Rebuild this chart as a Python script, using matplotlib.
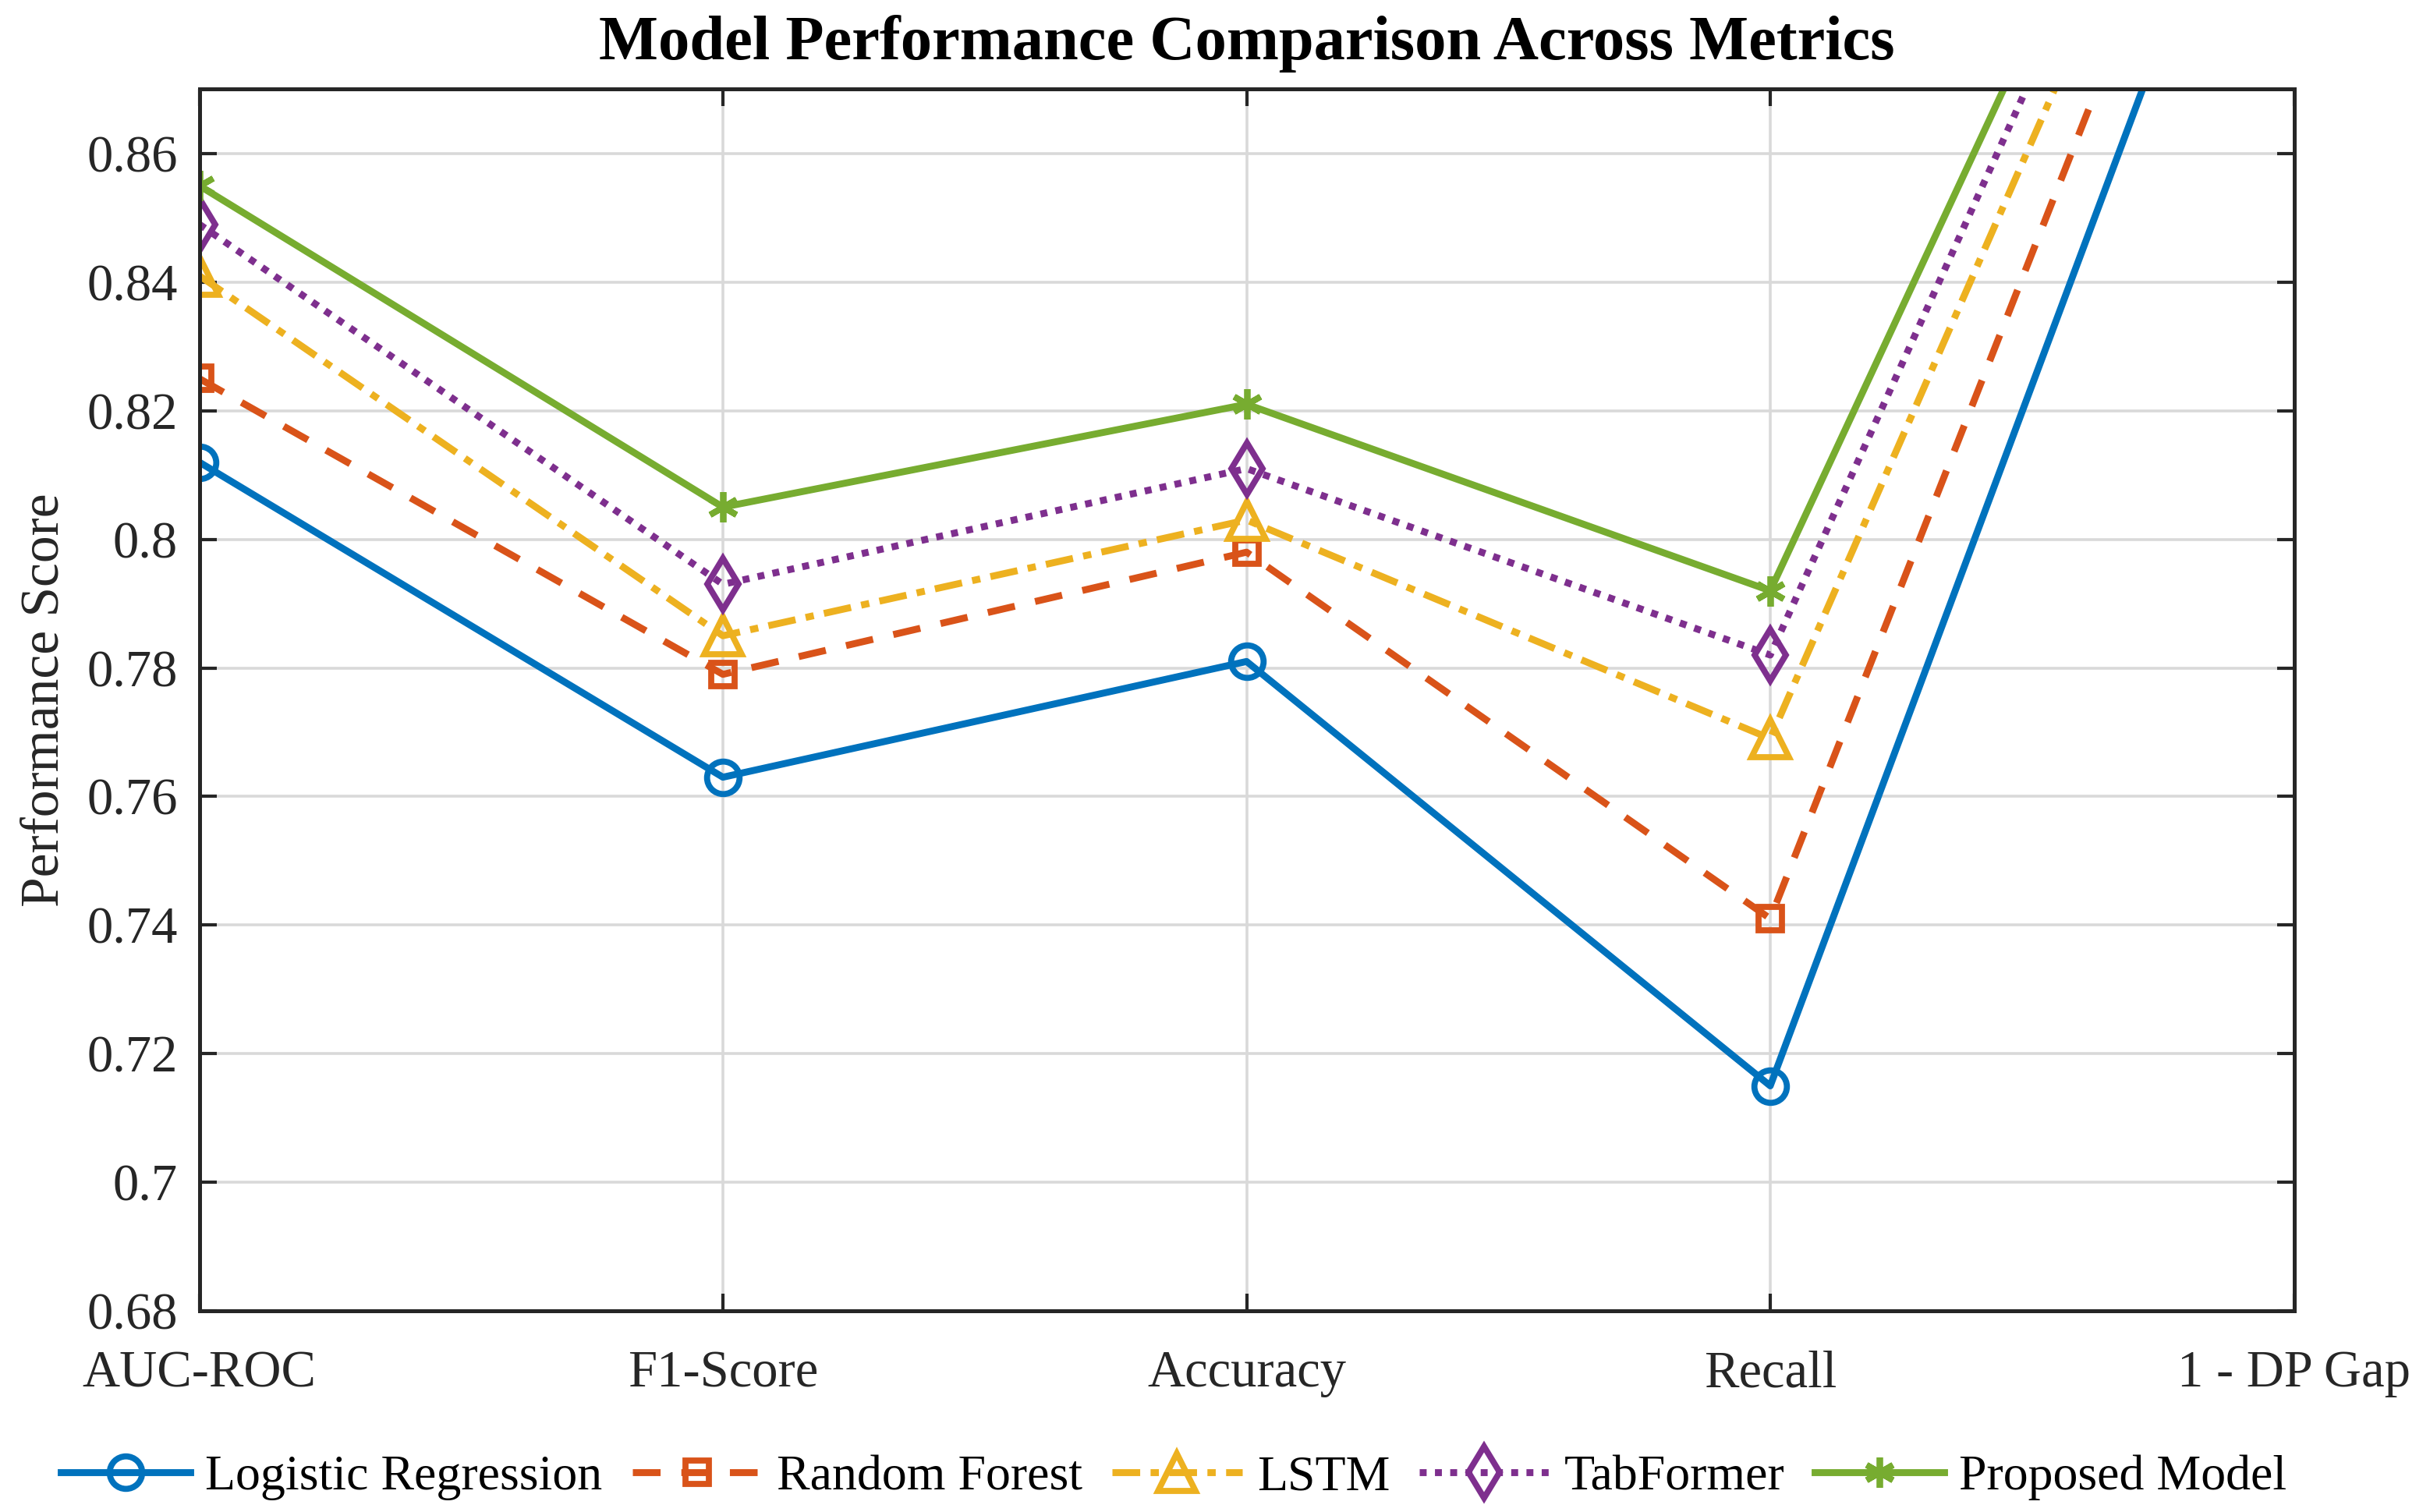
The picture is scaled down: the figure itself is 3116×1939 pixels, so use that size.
import matplotlib.pyplot as plt
from matplotlib.ticker import FixedLocator

plt.rcParams['font.family'] = ['Liberation Serif', 'DejaVu Serif']

metrics = ["AUC-ROC", "F1-Score", "Accuracy", "Recall", "1 - DP Gap"]

logistic_regression = [0.812, 0.763, 0.781, 0.715, 0.933]
random_forest = [0.825, 0.779, 0.798, 0.741, 0.948]
lstm = [0.841, 0.785, 0.803, 0.769, 0.955]
tabformer = [0.849, 0.793, 0.811, 0.782, 0.962]
proposed_model = [0.855, 0.805, 0.821, 0.792, 0.967]

y_ticks = [0.68, 0.70, 0.72, 0.74, 0.76, 0.78, 0.80, 0.82, 0.84, 0.86]
y_tick_labels = ["0.68", "0.7", "0.72", "0.74", "0.76", "0.78", "0.8", "0.82", "0.84", "0.86"]

# MATLAB default colour order
series = [
    ("Logistic Regression", logistic_regression, "#0072BD", "-", "o", 15),
    ("Random Forest", random_forest, "#D95319", (0, (4, 3)), "s", 11),
    ("LSTM", lstm, "#EDB120", (0, (4, 1.5, 1.2, 1.5)), "^", 17),
    ("TabFormer", tabformer, "#7E2F8E", (0, (1, 1.2)), "d", 17),
    ("Proposed Model", proposed_model, "#77AC30", "-", (6, 2, 0), 14),
]

fig = plt.figure(figsize=(15.58, 9.695), dpi=200)
ax = fig.add_axes([0.082, 0.133, 0.862, 0.808])

x = list(range(1, len(metrics) + 1))
for name, vals, color, ls, marker, ms in series:
    ax.plot(x, vals, linestyle=ls, color=color, linewidth=3.2, marker=marker,
            markersize=ms, markerfacecolor="none", markeredgewidth=2.8,
            label=name)

ax.set_xlim(1, 5)
ax.set_ylim(0.68, 0.87)
ax.set_xticks(x)
ax.set_xticklabels(metrics)
ax.yaxis.set_major_locator(FixedLocator(y_ticks))
ax.set_yticklabels(y_tick_labels)

ax.tick_params(axis="both", direction="in", length=8, width=1.5, labelsize=24,
               top=True, right=True, colors="#262626")
ax.tick_params(axis="x", pad=18)
ax.tick_params(axis="y", pad=10)

ax.grid(True, color="#d9d9d9", linewidth=1.3)
for sp in ax.spines.values():
    sp.set_linewidth(1.8)
    sp.set_color("#262626")

ax.set_ylabel("Performance Score", fontsize=25, labelpad=8, color="#262626")
ax.set_title("Model Performance Comparison Across Metrics", fontsize=29,
             fontweight="bold", pad=14)

fig.legend(loc="lower center", bbox_to_anchor=(0.483, -0.022), ncol=5, frameon=False,
           fontsize=23, handlelength=2.6, columnspacing=0.6, handletextpad=0.3)

fig.savefig("out.png", dpi=200)
